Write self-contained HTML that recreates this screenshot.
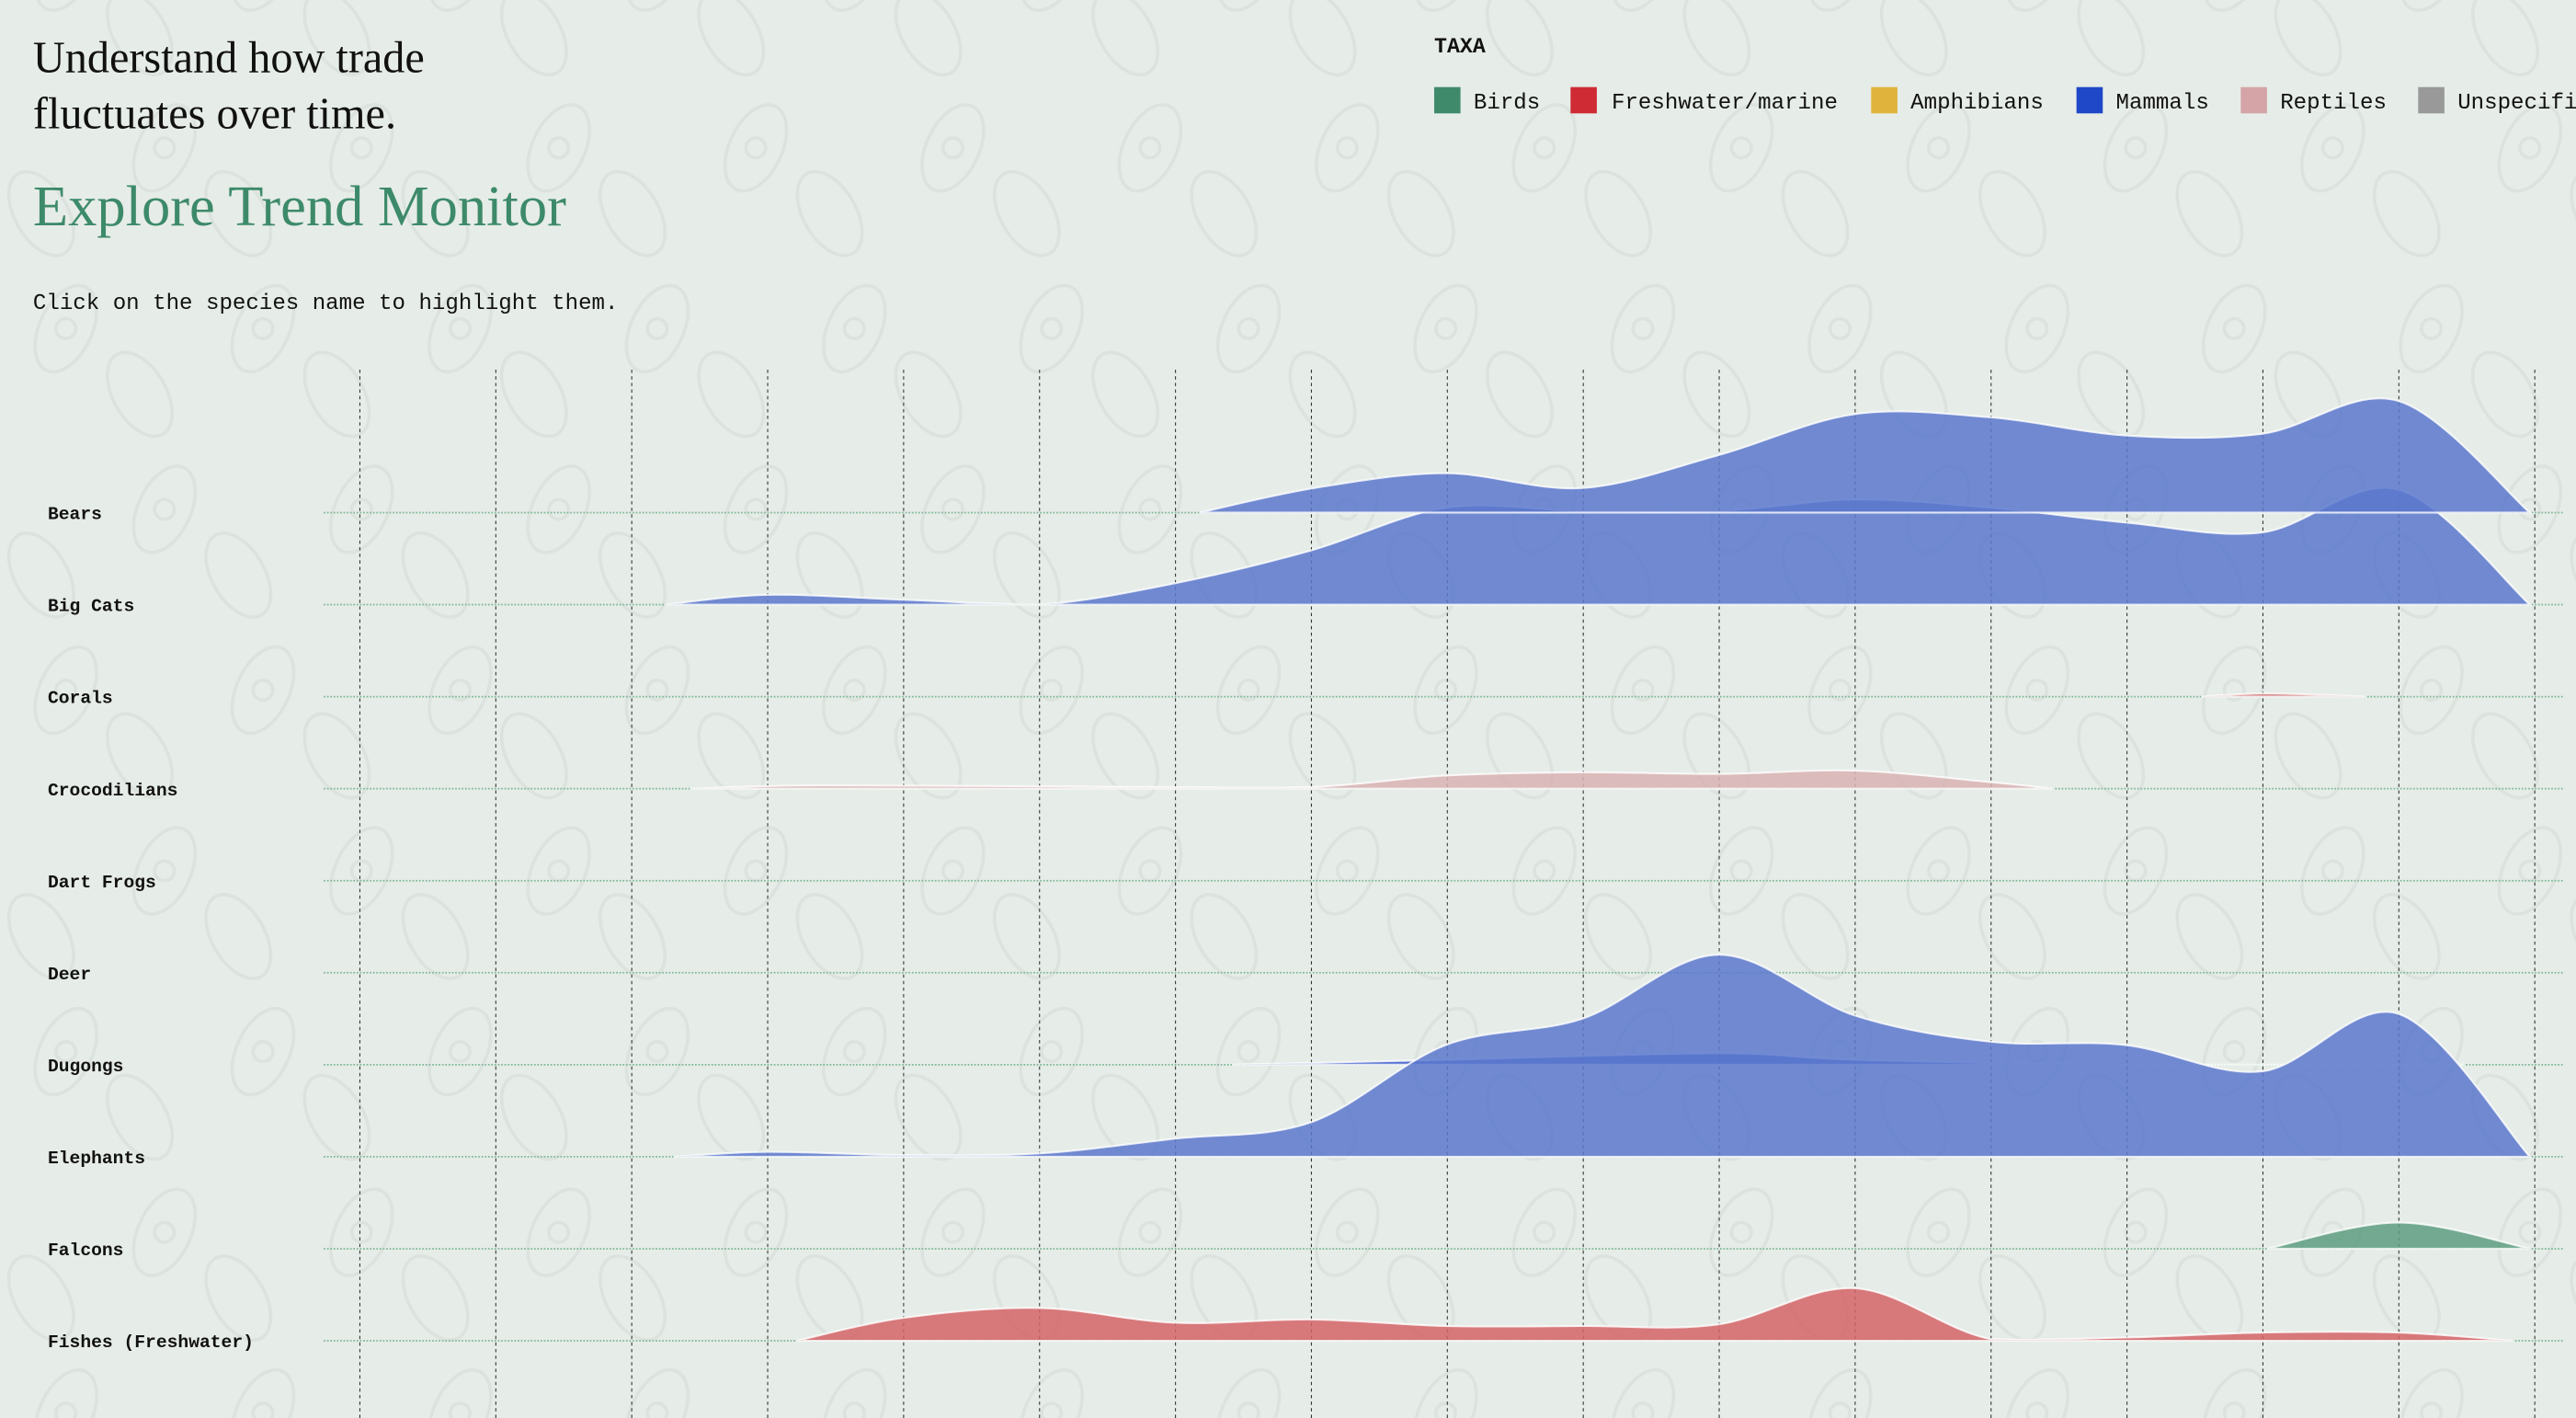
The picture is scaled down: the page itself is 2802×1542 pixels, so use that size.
<!DOCTYPE html>
<html><head><meta charset="utf-8"><style>
html,body{margin:0;padding:0;background:#e6ece7;overflow:hidden;width:2802px;height:1542px;}
svg{display:block;}
.mono{font-family:"Liberation Mono",monospace;}
.serif{font-family:"Liberation Serif",serif;}
</style></head><body>
<svg id="s" width="2802" height="1542" viewBox="0 0 1568 863" xmlns="http://www.w3.org/2000/svg">
<rect width="1568" height="863" fill="#e6ece7"/>
<g id="pat" fill="none" stroke="#dce3de" stroke-width="2"></g>
<text x="20" y="44" class="serif" font-size="27" fill="#111">Understand how trade</text>
<text x="20" y="78" class="serif" font-size="27" fill="#111">fluctuates over time.</text>
<text x="20" y="137" class="serif" font-size="35" fill="#3d8a6a">Explore Trend Monitor</text>
<text x="20" y="188" class="mono" font-size="13.5" fill="#111">Click on the species name to highlight them.</text>
<text x="873" y="32" class="mono" font-size="13" font-weight="bold" fill="#111">TAXA</text>
<g class="mono" font-size="13.5" fill="#111">
<rect x="873" y="53" width="16" height="16" fill="#3e8a6b"/><text x="897" y="66">Birds</text>
<rect x="956" y="53" width="16" height="16" fill="#cf2b35"/><text x="981" y="66">Freshwater/marine</text>
<rect x="1139" y="53" width="16" height="16" fill="#e0b43c"/><text x="1163" y="66">Amphibians</text>
<rect x="1264" y="53" width="16" height="16" fill="#1e48c8"/><text x="1288" y="66">Mammals</text>
<rect x="1364" y="53" width="16" height="16" fill="#d4a4a7"/><text x="1388" y="66">Reptiles</text>
<rect x="1472" y="53" width="16" height="16" fill="#999"/><text x="1496" y="66">Unspecified</text>
</g>
<g id="grid"></g>
<g id="rows"></g>
<g id="areas"></g>
</svg>
<script>
var NS="http://www.w3.org/2000/svg";
function el(p,t,a){var e=document.createElementNS(NS,t);for(var k in a)e.setAttribute(k,a[k]);document.getElementById(p).appendChild(e);return e;}
for(var py=-20;py<900;py+=110){for(var px=-20;px<1600;px+=120){var o=(Math.floor(py/110)%2)*60;
el("pat","ellipse",{cx:px+o,cy:py,rx:16,ry:28,transform:"rotate(25 "+(px+o)+" "+py+")"});
el("pat","ellipse",{cx:px+o+45,cy:py+40,rx:16,ry:28,transform:"rotate(-30 "+(px+o+45)+" "+(py+40)+")"});
el("pat","circle",{cx:px+o,cy:py,r:6});}}
for(var i=0;i<17;i++){var x=219+i*82.75;el("grid","line",{x1:x,y1:225,x2:x,y2:863,stroke:"#333","stroke-width":0.6,"stroke-dasharray":"2,2"});}
var names=["Bears","Big Cats","Corals","Crocodilians","Dart Frogs","Deer","Dugongs","Elephants","Falcons","Fishes (Freshwater)"];
names.forEach(function(n,i){var y=312+i*56;
el("rows","line",{x1:197,y1:y,x2:1560,y2:y,stroke:"#7fb89a","stroke-width":1,"stroke-dasharray":"1,1"});
var t=el("rows","text",{x:29,y:y+4,"font-family":"Liberation Mono,monospace","font-size":11,"font-weight":"bold",fill:"#111"});t.textContent=n;});
function path(pts,base){var d="M"+pts[0][0]+","+base+" L"+pts[0][0]+","+pts[0][1];
for(var i=0;i<pts.length-1;i++){var p0=pts[i-1]||pts[i],p1=pts[i],p2=pts[i+1],p3=pts[i+2]||p2;
var c1x=p1[0]+(p2[0]-p0[0])/6,c1y=Math.min(base,p1[1]+(p2[1]-p0[1])/6),c2x=p2[0]-(p3[0]-p1[0])/6,c2y=Math.min(base,p2[1]-(p3[1]-p1[1])/6);
d+=" C"+c1x+","+c1y+" "+c2x+","+c2y+" "+p2[0]+","+p2[1];}
return d+" L"+pts[pts.length-1][0]+","+base+"Z";}
var S=[
[368,"#5b78cc",[[405,368],[467,362],[550,365],[632,368],[715,355],[798,335],[880,309],[963,311],[1046,311],[1129,304],[1212,309],[1294,318],[1377,324],[1460,298],[1540,368]]],
[312,"#5b78cc",[[730,312],[800,297],[880,288],[963,297],[1046,277],[1129,252],[1212,254],[1294,265],[1377,264],[1460,244],[1540,312]]],
[424,"#cf6a6a",[[1340,424],[1380,422],[1440,424]]],
[480,"#d8b3b3",[[420,480],[500,478],[700,479],[798,479],[880,472],[963,470],[1046,471],[1129,469],[1212,476],[1250,480]]],
[648,"#3a5ccc",[[750,648],[880,645],[1046,641],[1129,645],[1294,648],[1500,648]]],
[704,"#5b78cc",[[410,704],[467,701],[550,703],[632,702],[715,693],[798,683],[880,636],[963,620],[1046,581],[1129,618],[1212,634],[1294,636],[1377,652],[1460,617],[1540,704]]],
[760,"#5d9e80",[[1380,760],[1460,744],[1540,760]]],
[816,"#d46466",[[485,816],[550,802],[632,796],[715,805],[798,803],[880,807],[963,807],[1046,806],[1129,784],[1212,815],[1294,814],[1377,811],[1460,811],[1530,816]]]
];
S.forEach(function(s){el("areas","path",{d:path(s[2],s[0]),fill:s[1],"fill-opacity":0.85,stroke:"#fff","stroke-width":1.2,"stroke-opacity":0.8});});
</script>
</body></html>
